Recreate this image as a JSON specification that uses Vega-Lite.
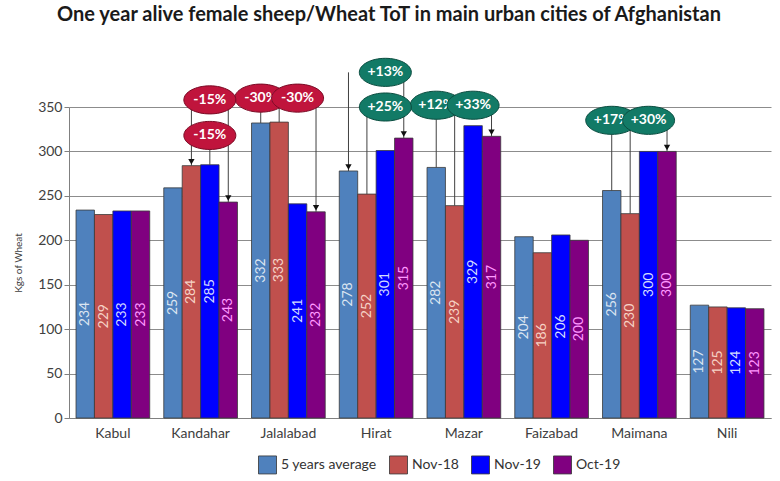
{
  "$schema": "https://vega.github.io/schema/vega-lite/v6.json",
  "width": 702,
  "height": 311,
  "autosize": {"type": "none"},
  "padding": {"left": 69, "top": 107, "right": 9, "bottom": 63},
  "background": "white",
  "title": {
    "text": "One year alive female sheep/Wheat ToT in main urban cities of Afghanistan",
    "fontSize": 20,
    "font": "Lato",
    "fontWeight": "bold",
    "color": "#1a1a1a",
    "anchor": "middle",
    "dx": -31,
    "offset": 31
  },
  "config": {
    "font": "Lato",
    "view": {"stroke": null},
    "axisX": {"title": null, "labelFontSize": 14, "labelColor": "#404040", "ticks": false, "domainColor": "#808080", "labelPadding": 8, "labelAngle": 0, "grid": false},
    "axisY": {"labelFontSize": 14, "labelColor": "#404040", "gridColor": "#8c8c8c", "domainColor": "#808080", "tickColor": "#808080", "tickSize": 5, "titleFontSize": 10, "titleFontWeight": "normal", "titleColor": "#404040", "titlePadding": 14},
    "legend": {"orient": "none", "legendX": 189, "legendY": 348, "direction": "horizontal", "labelFontSize": 14, "labelColor": "#333333", "symbolType": "square", "symbolSize": 324, "symbolStrokeColor": "#333333", "symbolStrokeWidth": 0.8, "columnPadding": 10, "labelOffset": 4}
  },
  "datasets": {
    "bars": [
      {"city": "Kabul", "series": "5 years average", "value": 234},
      {"city": "Kabul", "series": "Nov-18", "value": 229},
      {"city": "Kabul", "series": "Nov-19", "value": 233},
      {"city": "Kabul", "series": "Oct-19", "value": 233},
      {"city": "Kandahar", "series": "5 years average", "value": 259},
      {"city": "Kandahar", "series": "Nov-18", "value": 284},
      {"city": "Kandahar", "series": "Nov-19", "value": 285},
      {"city": "Kandahar", "series": "Oct-19", "value": 243},
      {"city": "Jalalabad", "series": "5 years average", "value": 332},
      {"city": "Jalalabad", "series": "Nov-18", "value": 333},
      {"city": "Jalalabad", "series": "Nov-19", "value": 241},
      {"city": "Jalalabad", "series": "Oct-19", "value": 232},
      {"city": "Hirat", "series": "5 years average", "value": 278},
      {"city": "Hirat", "series": "Nov-18", "value": 252},
      {"city": "Hirat", "series": "Nov-19", "value": 301},
      {"city": "Hirat", "series": "Oct-19", "value": 315},
      {"city": "Mazar", "series": "5 years average", "value": 282},
      {"city": "Mazar", "series": "Nov-18", "value": 239},
      {"city": "Mazar", "series": "Nov-19", "value": 329},
      {"city": "Mazar", "series": "Oct-19", "value": 317},
      {"city": "Faizabad", "series": "5 years average", "value": 204},
      {"city": "Faizabad", "series": "Nov-18", "value": 186},
      {"city": "Faizabad", "series": "Nov-19", "value": 206},
      {"city": "Faizabad", "series": "Oct-19", "value": 200},
      {"city": "Maimana", "series": "5 years average", "value": 256},
      {"city": "Maimana", "series": "Nov-18", "value": 230},
      {"city": "Maimana", "series": "Nov-19", "value": 300},
      {"city": "Maimana", "series": "Oct-19", "value": 300},
      {"city": "Nili", "series": "5 years average", "value": 127},
      {"city": "Nili", "series": "Nov-18", "value": 125},
      {"city": "Nili", "series": "Nov-19", "value": 124},
      {"city": "Nili", "series": "Oct-19", "value": 123}
    ],
    "links": [
      {"city": "Kandahar", "series": "Nov-18", "top": 358, "bottom": 284},
      {"city": "Kandahar", "series": "Oct-19", "top": 358, "bottom": 243},
      {"city": "Kandahar", "series": "Nov-19", "top": 318, "bottom": 285},
      {"city": "Jalalabad", "series": "5 years average", "top": 360, "bottom": 332},
      {"city": "Jalalabad", "series": "Nov-18", "top": 360, "bottom": 333},
      {"city": "Jalalabad", "series": "Oct-19", "top": 360, "bottom": 232},
      {"city": "Hirat", "series": "5 years average", "top": 389, "bottom": 278},
      {"city": "Hirat", "series": "Oct-19", "top": 389, "bottom": 315},
      {"city": "Hirat", "series": "Nov-18", "top": 350, "bottom": 252},
      {"city": "Mazar", "series": "5 years average", "top": 352, "bottom": 282},
      {"city": "Mazar", "series": "Nov-18", "top": 352, "bottom": 239},
      {"city": "Mazar", "series": "Oct-19", "top": 352, "bottom": 317},
      {"city": "Maimana", "series": "5 years average", "top": 335, "bottom": 256},
      {"city": "Maimana", "series": "Nov-18", "top": 335, "bottom": 230},
      {"city": "Maimana", "series": "Oct-19", "top": 335, "bottom": 300}
    ],
    "arrows": [
      {"city": "Kandahar", "series": "Nov-18", "value": 284},
      {"city": "Kandahar", "series": "Oct-19", "value": 243},
      {"city": "Jalalabad", "series": "Oct-19", "value": 232},
      {"city": "Hirat", "series": "5 years average", "value": 278},
      {"city": "Hirat", "series": "Oct-19", "value": 315},
      {"city": "Mazar", "series": "Oct-19", "value": 317},
      {"city": "Maimana", "series": "Oct-19", "value": 300}
    ],
    "notesBack": [
      {"city": "Jalalabad", "series": "5 years average", "at": 360, "label": "-30%", "dir": "down"},
      {"city": "Mazar", "series": "5 years average", "at": 352, "label": "+12%", "dir": "up"},
      {"city": "Maimana", "series": "5 years average", "at": 335, "label": "+17%", "dir": "up"}
    ],
    "notesFront": [
      {"city": "Kandahar", "series": "Nov-19", "at": 358, "label": "-15%", "dir": "down"},
      {"city": "Kandahar", "series": "Nov-19", "at": 318, "label": "-15%", "dir": "down"},
      {"city": "Jalalabad", "series": "Nov-19", "at": 360, "label": "-30%", "dir": "down"},
      {"city": "Hirat", "series": "Nov-19", "at": 389, "label": "+13%", "dir": "up"},
      {"city": "Hirat", "series": "Nov-19", "at": 350, "label": "+25%", "dir": "up"},
      {"city": "Mazar", "series": "Nov-19", "at": 352, "label": "+33%", "dir": "up"},
      {"city": "Maimana", "series": "Nov-19", "at": 335, "label": "+30%", "dir": "up"}
    ]
  },
  "encoding": {
    "x": {"field": "city", "type": "nominal", "sort": ["Kabul", "Kandahar", "Jalalabad", "Hirat", "Mazar", "Faizabad", "Maimana", "Nili"], "scale": {"paddingInner": 0.16, "paddingOuter": 0.08}},
    "xOffset": {"field": "series", "type": "nominal", "scale": {"paddingInner": 0, "paddingOuter": 0}}
  },
  "layer": [
    {
      "layer": [
        {
          "data": {"name": "bars"},
          "mark": {"type": "bar", "stroke": "#3a3a3a", "strokeWidth": 0.8},
          "encoding": {
            "y": {"field": "value", "type": "quantitative", "title": "Kgs of Wheat", "scale": {"domain": [0, 350], "nice": false}, "axis": {"values": [0, 50, 100, 150, 200, 250, 300, 350]}},
            "color": {"field": "series", "type": "nominal", "title": null, "scale": {"range": ["#4f81bd", "#c0504d", "#0000ff", "#800080"]}}
          }
        },
        {
          "data": {"name": "links"},
          "mark": {"type": "rule", "color": "#404040", "strokeWidth": 1},
          "encoding": {
            "y": {"field": "top", "type": "quantitative"},
            "y2": {"field": "bottom"}
          }
        },
        {
          "data": {"name": "arrows"},
          "mark": {"type": "point", "shape": "triangle-down", "filled": true, "color": "#111111", "opacity": 1, "size": 40, "yOffset": -4},
          "encoding": {
            "y": {"field": "value", "type": "quantitative"}
          }
        },
        {
          "data": {"name": "notesBack"},
          "mark": {"type": "point", "shape": "M -1 0 C -1 -0.298 -0.552 -0.54 0 -0.54 C 0.552 -0.54 1 -0.298 1 0 C 1 0.298 0.552 0.54 0 0.54 C -0.552 0.54 -1 0.298 -1 0 Z", "filled": true, "opacity": 1, "size": 2704, "strokeWidth": 1},
          "encoding": {
            "y": {"field": "at", "type": "quantitative"},
            "fill": {"field": "dir", "type": "nominal", "legend": null, "scale": {"domain": ["down", "up"], "range": ["#c0143c", "#127a66"]}},
            "stroke": {"field": "dir", "type": "nominal", "legend": null, "scale": {"domain": ["down", "up"], "range": ["#7a0c26", "#0b4d40"]}}
          }
        },
        {
          "data": {"name": "notesBack"},
          "mark": {"type": "text", "color": "white", "fontWeight": "bold", "fontSize": 14, "baseline": "middle", "align": "center"},
          "encoding": {
            "y": {"field": "at", "type": "quantitative"},
            "text": {"field": "label"}
          }
        },
        {
          "data": {"name": "notesFront"},
          "mark": {"type": "point", "shape": "M -1 0 C -1 -0.298 -0.552 -0.54 0 -0.54 C 0.552 -0.54 1 -0.298 1 0 C 1 0.298 0.552 0.54 0 0.54 C -0.552 0.54 -1 0.298 -1 0 Z", "filled": true, "opacity": 1, "size": 2704, "strokeWidth": 1},
          "encoding": {
            "y": {"field": "at", "type": "quantitative"},
            "fill": {"field": "dir", "type": "nominal", "legend": null, "scale": {"domain": ["down", "up"], "range": ["#c0143c", "#127a66"]}},
            "stroke": {"field": "dir", "type": "nominal", "legend": null, "scale": {"domain": ["down", "up"], "range": ["#7a0c26", "#0b4d40"]}}
          }
        },
        {
          "data": {"name": "notesFront"},
          "mark": {"type": "text", "color": "white", "fontWeight": "bold", "fontSize": 14, "baseline": "middle", "align": "center"},
          "encoding": {
            "y": {"field": "at", "type": "quantitative"},
            "text": {"field": "label"}
          }
        }
      ]
    },
    {
      "data": {"name": "bars"},
      "mark": {"type": "text", "angle": 270, "fontSize": 14, "baseline": "middle", "align": "center"},
      "encoding": {
        "y": {"field": "value", "type": "quantitative", "scale": {"domain": [0, 700], "nice": false}, "axis": null},
        "text": {"field": "value", "type": "quantitative"},
        "fill": {"field": "series", "type": "nominal", "legend": null, "scale": {"range": ["#dbe5f1", "#f6d3c6", "#d3dcff", "#ff99ff"]}}
      }
    }
  ],
  "resolve": {"scale": {"y": "independent", "fill": "independent"}}
}
